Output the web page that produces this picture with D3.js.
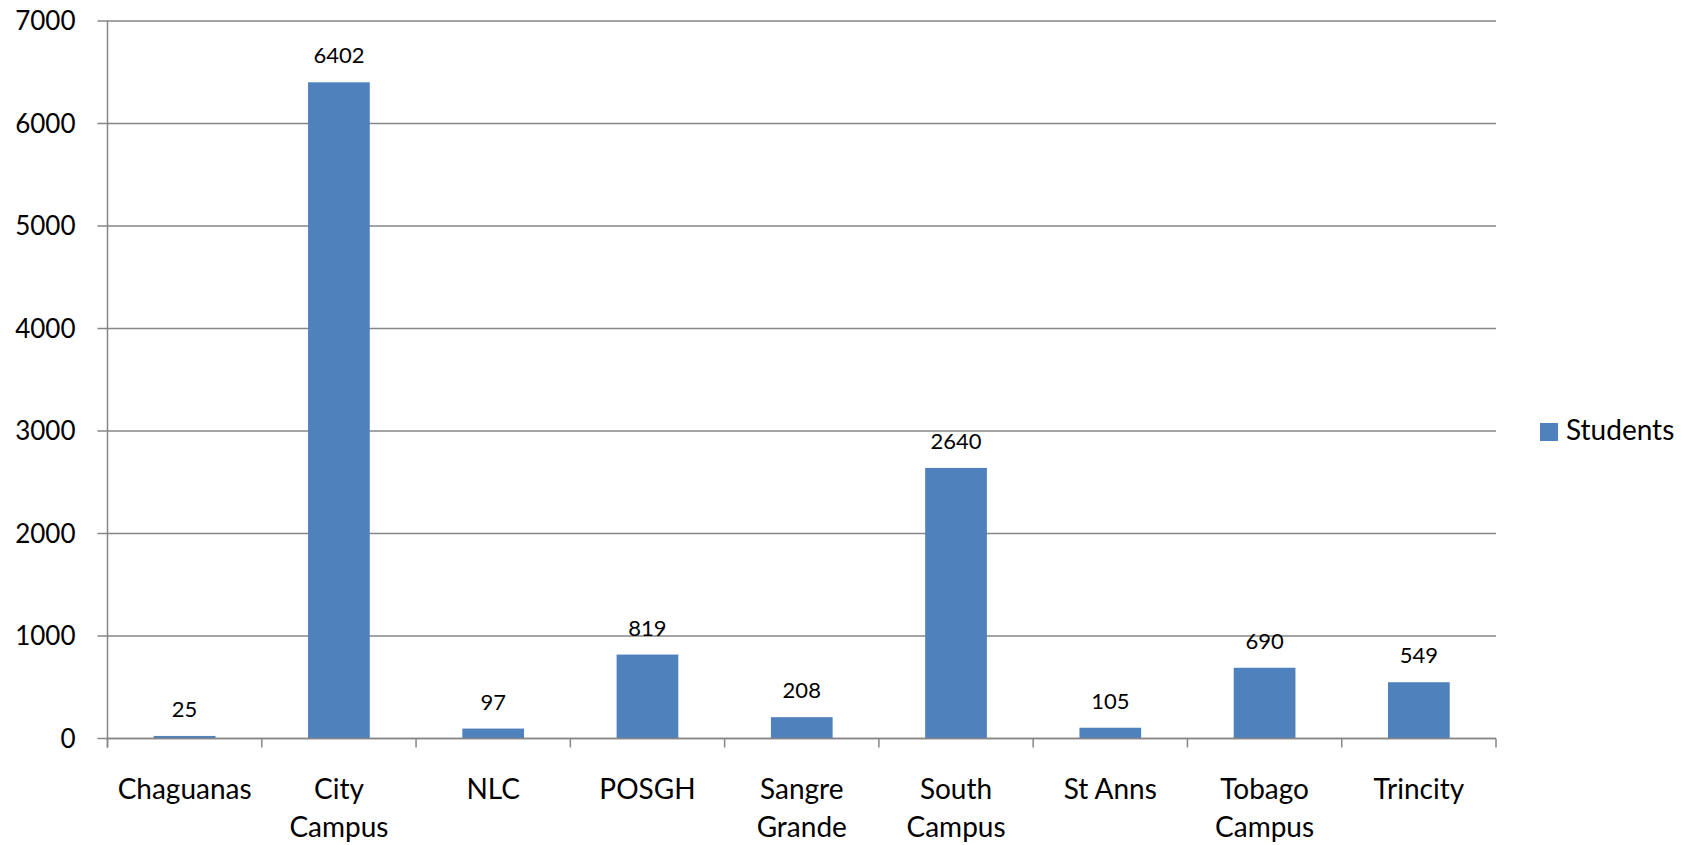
<!DOCTYPE html>
<html>
<head>
<meta charset="utf-8">
<script src="https://cdn.jsdelivr.net/npm/d3@7"></script>
<style>
  body { margin:0; background:#fff; }
  svg text { font-family: Lato, "Open Sans", sans-serif; fill:#000; }
</style>
</head>
<body>
<div id="chart"></div>
<script>
// Students per campus — Excel-style column chart

const categories = ["Chaguanas","City Campus","NLC","POSGH","Sangre Grande","South Campus","St Anns","Tobago Campus","Trincity"];
const labelLines = [["Chaguanas"],["City","Campus"],["NLC"],["POSGH"],["Sangre","Grande"],["South","Campus"],["St Anns"],["Tobago","Campus"],["Trincity"]];
const students = [25, 6402, 97, 819, 208, 2640, 105, 690, 549];
const yTicks = [0,1000,2000,3000,4000,5000,6000,7000];
const seriesName = "Students";

const width = 1695, height = 845;
const plotL = 107.5, plotR = 1496, plotT = 21, plotB = 738.5;

const barColor = "#4F81BD";
const gridColor = "#868686";

const svg = d3.select("#chart").append("svg")
  .attr("width", width).attr("height", height);

const x = d3.scaleBand().domain(categories).range([plotL, plotR])
  .paddingInner(0.6).paddingOuter(0.3);
const y = d3.scaleLinear().domain([0, 7000]).range([plotB, plotT]);

// gridlines + y ticks
svg.append("g").selectAll("line").data(yTicks).join("line")
  .attr("x1", plotL - 10).attr("x2", plotR)
  .attr("y1", d => y(d)).attr("y2", d => y(d))
  .attr("stroke", gridColor).attr("stroke-width", 1.5);

svg.append("g").selectAll("text").data(yTicks).join("text")
  .attr("x", plotL - 32).attr("y", d => y(d) + 9)
  .attr("text-anchor", "end")
  .style("font-size", "26px")
  .text(d => d);

// y axis line
svg.append("line")
  .attr("x1", plotL).attr("x2", plotL).attr("y1", plotT).attr("y2", plotB + 9)
  .attr("stroke", gridColor).attr("stroke-width", 1.5);

// bars
const data = categories.map((c, i) => ({c, v: students[i], lines: labelLines[i]}));
svg.append("g").selectAll("rect").data(data).join("rect")
  .attr("x", d => x(d.c)).attr("width", x.bandwidth())
  .attr("y", d => y(d.v)).attr("height", d => plotB - y(d.v))
  .attr("fill", barColor);

// value labels
svg.append("g").selectAll("text").data(data).join("text")
  .attr("x", d => x(d.c) + x.bandwidth()/2)
  .attr("y", d => y(d.v) - 19)
  .attr("text-anchor", "middle")
  .style("font-size", "22px")
  .text(d => d.v);

// x axis line + category boundary ticks
svg.append("line")
  .attr("x1", plotL).attr("x2", plotR).attr("y1", plotB).attr("y2", plotB)
  .attr("stroke", gridColor).attr("stroke-width", 1.5);

const half = (x.step() - x.bandwidth()) / 2;
const bounds = categories.map(c => x(c) - half).concat([x(categories[categories.length-1]) + x.bandwidth() + half]);
svg.append("g").selectAll("line").data(bounds).join("line")
  .attr("x1", d => d).attr("x2", d => d)
  .attr("y1", plotB).attr("y2", plotB + 9)
  .attr("stroke", gridColor).attr("stroke-width", 1.5);

// category labels
const cl = svg.append("g").selectAll("text").data(data).join("text")
  .attr("text-anchor", "middle")
  .style("font-size", "28px");
cl.selectAll("tspan").data(d => d.lines.map(t => ({t, cx: x(d.c) + x.bandwidth()/2}))).join("tspan")
  .attr("x", d => d.cx)
  .attr("y", (d, i) => 799 + i * 38)
  .text(d => d.t);

// legend
svg.append("rect").attr("x", 1540).attr("y", 423).attr("width", 18).attr("height", 18).attr("fill", barColor);
svg.append("text").attr("x", 1566).attr("y", 440).style("font-size", "28px").text(seriesName);
</script>
</body>
</html>
